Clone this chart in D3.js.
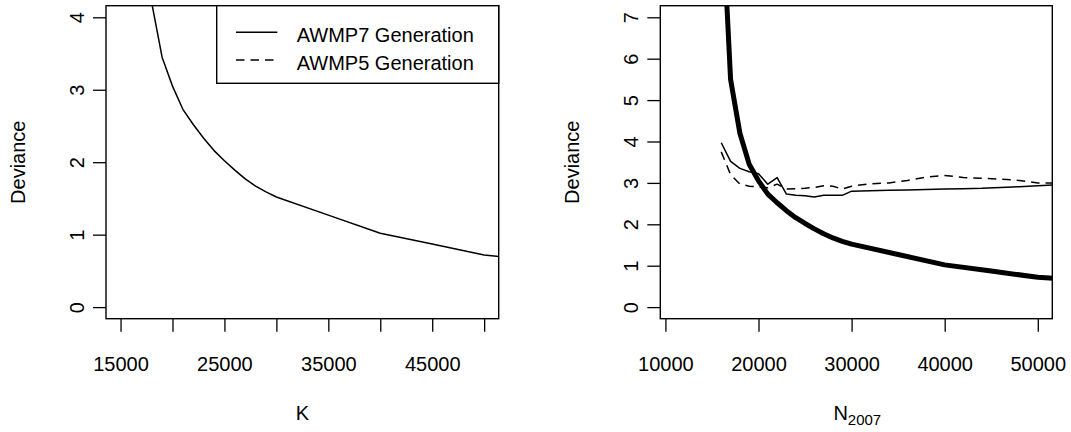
<!DOCTYPE html>
<html>
<head>
<meta charset="utf-8">
<script src="https://cdn.jsdelivr.net/npm/d3@7"></script>
<style>
  body { margin: 0; background: #fff; }
  svg { display: block; font-family: "Liberation Sans", Arial, sans-serif; }
</style>
</head>
<body>
<svg id="chart" width="1071" height="432"></svg>
<script>
// Deviance vs K (left) and vs N2007 (right)
const kValues = [16000, 17000, 18000, 19000, 20000, 21000, 22000, 23000, 24000, 25000,
    26000, 27000, 28000, 29000, 30000, 35000, 40000, 45000, 50000, 52000];
const devianceK = [10.0, 5.5, 4.2, 3.45, 3.05, 2.73, 2.52, 2.33, 2.16, 2.02,
    1.89, 1.77, 1.67, 1.59, 1.52, 1.27, 1.02, 0.87, 0.72, 0.69];

const nValues = [16000, 17000, 18000, 19000, 20000, 21000, 22000, 23000, 24000, 25000,
    26000, 27000, 28000, 29000, 30000, 32000, 34000, 36000, 38000, 40000,
    42000, 44000, 46000, 48000, 50000, 52000];
const awmp7 = [3.97, 3.52, 3.35, 3.27, 3.22, 2.97, 3.13, 2.73, 2.70, 2.69,
    2.66, 2.70, 2.70, 2.70, 2.80, 2.81, 2.82, 2.83, 2.84, 2.85,
    2.86, 2.87, 2.89, 2.91, 2.93, 2.95];
const awmp5 = [3.75, 3.20, 2.97, 2.92, 2.90, 2.88, 2.97, 2.85, 2.86, 2.87,
    2.89, 2.93, 2.92, 2.85, 2.92, 2.98, 3.00, 3.06, 3.14, 3.18,
    3.13, 3.11, 3.09, 3.06, 3.00, 3.00];

const leftXTicks = [15000, 20000, 25000, 30000, 35000, 40000, 45000, 50000];
const leftXLabels = [15000, 25000, 35000, 45000];
const leftYTicks = [0, 1, 2, 3, 4];
const rightXTicks = [10000, 20000, 30000, 40000, 50000];
const rightYTicks = [0, 1, 2, 3, 4, 5, 6, 7];
const legendLabels = ["AWMP7 Generation", "AWMP5 Generation"];

const svg = d3.select("#chart");
const FONT = 20;
const TICK = 13;

function panel(id, box, xDomain, yDomain, xTicks, xLabelSet, yTicks) {
    const x = d3.scaleLinear().domain(xDomain).range([box.left, box.right]);
    const y = d3.scaleLinear().domain(yDomain).range([box.bottom, box.top]);
    const g = svg.append("g");

    svg.append("clipPath").attr("id", "clip-" + id)
        .append("rect")
        .attr("x", box.left).attr("y", box.top)
        .attr("width", box.right - box.left).attr("height", box.bottom - box.top);

    const xAxis = d3.axisBottom(x)
        .tickValues(xTicks)
        .tickSize(TICK)
        .tickSizeOuter(0)
        .tickFormat(function (d) { return xLabelSet.indexOf(d) >= 0 ? String(d) : ""; });
    g.append("g")
        .attr("transform", "translate(0," + box.bottom + ")")
        .call(xAxis)
        .call(function (a) { a.select(".domain").remove(); })
        .call(function (a) { a.selectAll("line").attr("stroke", "#000").attr("stroke-width", 1.3); })
        .call(function (a) {
            a.selectAll("text")
                .attr("y", 52).attr("dy", 0)
                .attr("font-size", FONT).attr("font-family", "Liberation Sans, Arial, sans-serif")
                .attr("fill", "#000");
        });

    const yAxis = d3.axisLeft(y)
        .tickValues(yTicks)
        .tickSize(TICK)
        .tickSizeOuter(0)
        .tickFormat(d3.format("d"));
    g.append("g")
        .attr("transform", "translate(" + box.left + ",0)")
        .call(yAxis)
        .call(function (a) { a.select(".domain").remove(); })
        .call(function (a) { a.selectAll("line").attr("stroke", "#000").attr("stroke-width", 1.3); })
        .call(function (a) {
            a.selectAll("text")
                .attr("transform", "rotate(-90)")
                .attr("x", 0).attr("y", -22.5).attr("dy", 0)
                .attr("text-anchor", "middle")
                .attr("font-size", FONT).attr("font-family", "Liberation Sans, Arial, sans-serif")
                .attr("fill", "#000");
        });

    g.append("rect")
        .attr("x", box.left).attr("y", box.top)
        .attr("width", box.right - box.left).attr("height", box.bottom - box.top)
        .attr("fill", "none").attr("stroke", "#000").attr("stroke-width", 1.4);

    const cy = (box.top + box.bottom) / 2;
    g.append("text")
        .attr("transform", "translate(" + (box.left - 81) + "," + cy + ") rotate(-90)")
        .attr("text-anchor", "middle")
        .attr("font-size", FONT)
        .text("Deviance");

    return { x: x, y: y, g: g, clip: "url(#clip-" + id + ")" };
}

function drawLine(p, xs, ys, width, dash) {
    const line = d3.line()
        .x(function (d) { return p.x(d[0]); })
        .y(function (d) { return p.y(d[1]); });
    p.g.append("path")
        .datum(xs.map(function (v, i) { return [v, ys[i]]; }))
        .attr("clip-path", p.clip)
        .attr("d", line)
        .attr("fill", "none")
        .attr("stroke", "#000")
        .attr("stroke-width", width)
        .attr("stroke-linejoin", "round")
        .attr("stroke-dasharray", dash || null);
}

// left panel
const leftBox = { left: 106, right: 498.7, top: 5.7, bottom: 318.7 };
const L = panel("left", leftBox, [13600, 51400], [-0.16, 4.16], leftXTicks, leftXLabels, leftYTicks);
drawLine(L, kValues, devianceK, 1.5);

L.g.append("text")
    .attr("x", (leftBox.left + leftBox.right) / 2)
    .attr("y", 420)
    .attr("text-anchor", "middle")
    .attr("font-size", FONT)
    .text("K");

// legend
const legend = L.g.append("g");
legend.append("rect")
    .attr("x", 216.7).attr("y", leftBox.top)
    .attr("width", leftBox.right - 216.7).attr("height", 83.3 - leftBox.top)
    .attr("fill", "#fff").attr("stroke", "#000").attr("stroke-width", 1.4);
legendLabels.forEach(function (label, i) {
    const ly = 32.3 + i * 27.7;
    legend.append("line")
        .attr("x1", 236).attr("x2", 277.3)
        .attr("y1", ly).attr("y2", ly)
        .attr("stroke", "#000").attr("stroke-width", 1.5)
        .attr("stroke-dasharray", i === 1 ? "8.5,6" : null);
    legend.append("text")
        .attr("x", 296.7).attr("y", ly + 9.8)
        .attr("font-size", FONT)
        .text(label);
});

// right panel
const rightBox = { left: 660.3, right: 1052.3, top: 5.7, bottom: 318.7 };
const R = panel("right", rightBox, [9450, 51560], [-0.28, 7.28], rightXTicks, rightXTicks, rightYTicks);
drawLine(R, nValues, awmp5, 1.5, "8.5,6");
drawLine(R, nValues, awmp7, 1.5);
drawLine(R, kValues, devianceK, 5);

const nLabel = R.g.append("text")
    .attr("x", (rightBox.left + rightBox.right) / 2 + 1)
    .attr("y", 420)
    .attr("text-anchor", "middle")
    .attr("font-size", FONT);
nLabel.append("tspan").text("N");
nLabel.append("tspan").attr("font-size", 15).attr("dy", 5).text("2007");
</script>
</body>
</html>
